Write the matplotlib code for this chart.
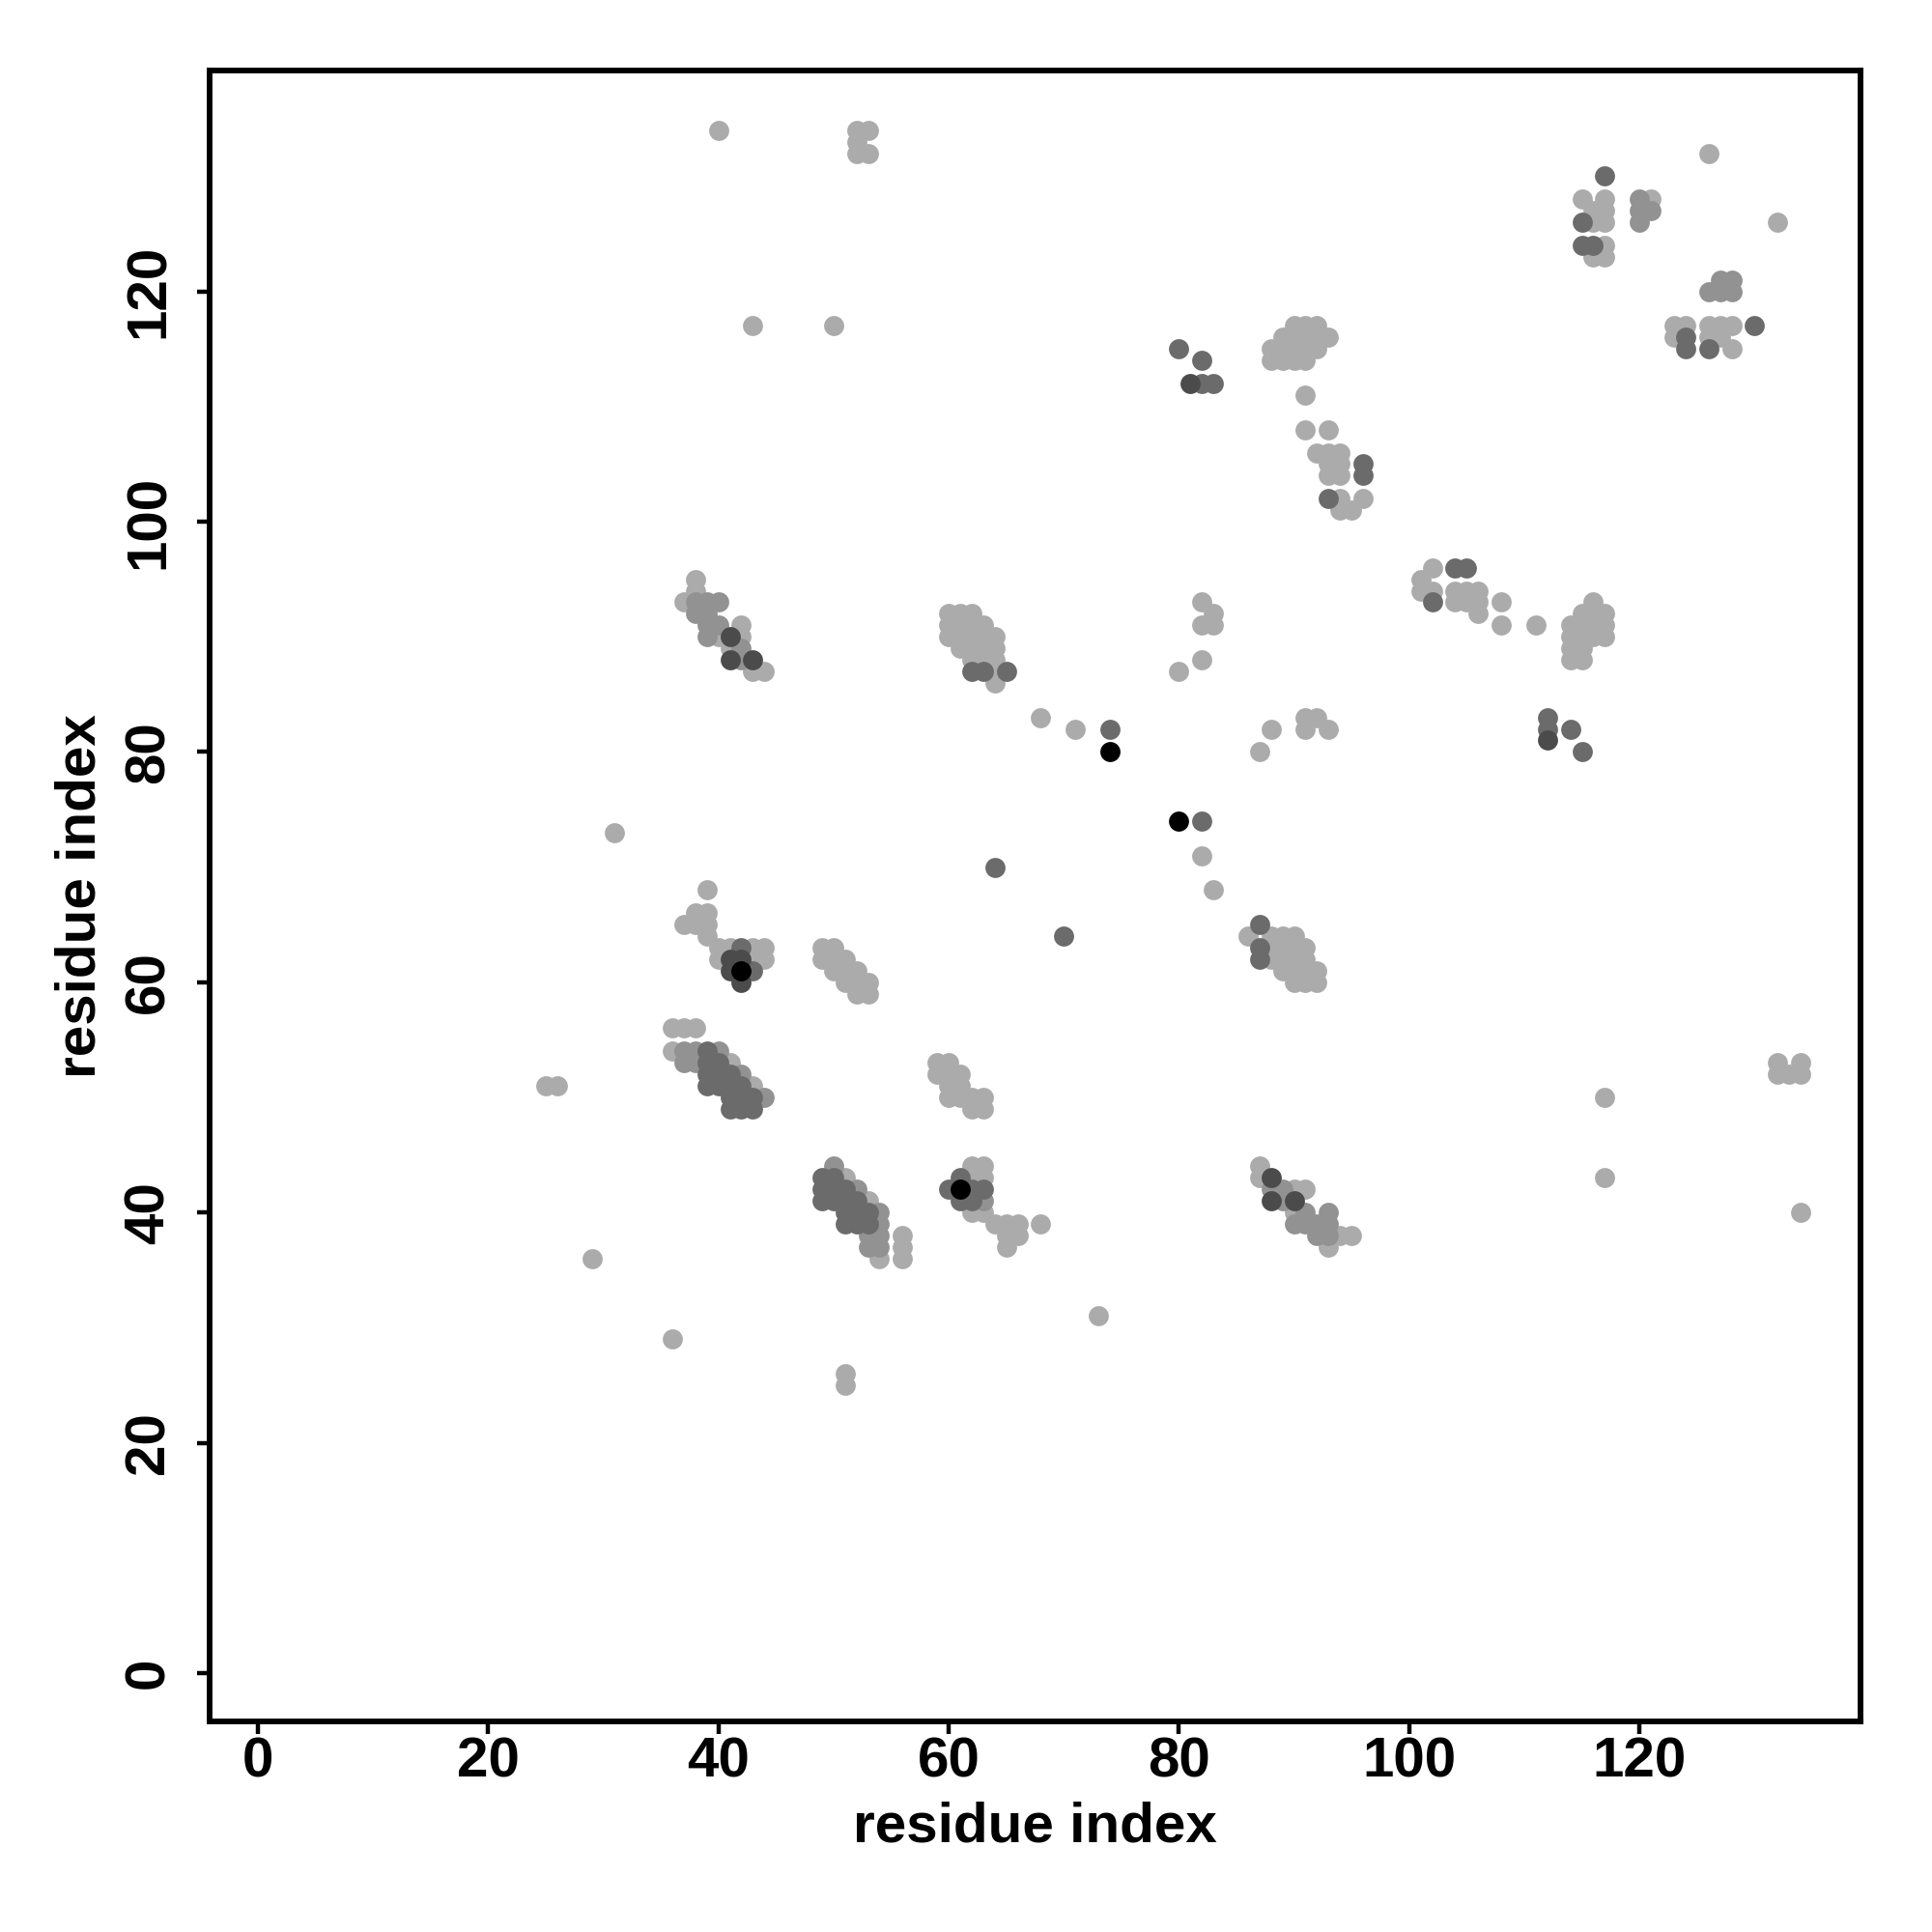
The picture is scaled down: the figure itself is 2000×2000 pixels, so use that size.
import matplotlib
matplotlib.use("Agg")
import matplotlib.pyplot as plt
import numpy as np

plt.rcParams['font.family'] = ['Liberation Sans', 'DejaVu Sans']

# contacts (i, j) grouped by shade
light = [
    (40, 134), (52, 134), (53, 134), (52, 133), (52, 132), (53, 132),
    (43, 117), (50, 117),
    (90, 117), (91, 117), (92, 117),
    (89, 116), (90, 116), (91, 116), (92, 116), (93, 116),
    (88, 115), (89, 115), (90, 115), (91, 115), (92, 115),
    (88, 114), (89, 114), (90, 114), (91, 114),
    (91, 111), (91, 108), (93, 108),
    (92, 106), (93, 106), (94, 106), (93, 105), (94, 105), (93, 104), (94, 104),
    (94, 102), (96, 102), (94, 101), (95, 101),
    (126, 132), (115, 128), (117, 128), (116, 127), (117, 127), (116, 126), (117, 126),
    (117, 124), (116, 123), (117, 123), (121, 128), (132, 126),
    (123, 117), (124, 117), (126, 117), (127, 117), (128, 117),
    (123, 116), (126, 116), (127, 116), (128, 115),
    (38, 95), (38, 94), (37, 93), (42, 91), (40, 90), (42, 90), (41, 89), (43, 87), (44, 87),
    (60, 92), (61, 92), (62, 92), (60, 91), (61, 91), (62, 91), (63, 91),
    (60, 90), (61, 90), (62, 90), (63, 90), (64, 90), (61, 89), (62, 89), (63, 89), (64, 89),
    (62, 88), (63, 88), (64, 88), (64, 87), (64, 86),
    (68, 83), (71, 82), (82, 93), (83, 92), (82, 91), (83, 91), (82, 88), (80, 87),
    (88, 82), (87, 80), (91, 83), (92, 83), (91, 82), (93, 82), (82, 71), (83, 68),
    (86, 64), (88, 64), (89, 64), (90, 64), (88, 63), (89, 63), (90, 63), (91, 63),
    (88, 62), (89, 62), (90, 62), (91, 62), (89, 61), (90, 61), (91, 61), (92, 61),
    (90, 60), (91, 60), (92, 60),
    (102, 96), (101, 95), (101, 94), (102, 94), (104, 94), (105, 94), (106, 94),
    (104, 93), (105, 93), (106, 93), (106, 92), (108, 93), (108, 91), (111, 91),
    (116, 93), (115, 92), (116, 92), (117, 92), (114, 91), (115, 91), (116, 91), (117, 91),
    (114, 90), (115, 90), (116, 90), (117, 90), (114, 89), (115, 89), (114, 88), (115, 88),
    (25, 51), (26, 51), (29, 36), (36, 29), (51, 26), (51, 25), (31, 73), (73, 31),
    (117, 50), (117, 43), (134, 40), (132, 53), (134, 53), (132, 52), (133, 52), (134, 52),
    (39, 68), (38, 66), (39, 66), (37, 65), (38, 65), (39, 65), (39, 64),
    (40, 63), (41, 63), (43, 63), (44, 63), (40, 62), (43, 62), (44, 62),
    (49, 63), (50, 63), (49, 62), (50, 62), (51, 62), (50, 61), (51, 61), (52, 61),
    (51, 60), (52, 60), (53, 60), (52, 59), (53, 59),
    (36, 56), (37, 56), (38, 56), (36, 54), (41, 53), (43, 51),
    (59, 53), (60, 53), (59, 52), (60, 52), (61, 52), (60, 51), (61, 51),
    (60, 50), (61, 50), (62, 50), (63, 50), (62, 49), (63, 49),
    (62, 44), (63, 44), (62, 43), (63, 43), (62, 40), (63, 40),
    (64, 39), (65, 39), (66, 39), (68, 39), (65, 38), (66, 38), (65, 37),
    (51, 43), (53, 41), (56, 38), (56, 37), (56, 36), (54, 36),
    (87, 44), (87, 43), (90, 42), (91, 42), (90, 40), (94, 38), (95, 38), (93, 37),
]

mid = [
    (120, 128), (120, 127), (121, 127), (120, 126),
    (127, 121), (128, 121), (126, 120), (127, 120), (128, 120),
    (38, 93), (39, 93), (40, 93), (38, 92), (39, 92), (39, 91), (40, 91), (39, 90),
    (42, 89), (42, 88),
    (37, 54), (38, 54), (40, 54), (37, 53), (38, 53), (42, 52), (44, 50),
    (50, 44), (52, 42), (54, 40), (54, 39), (53, 38), (54, 38), (53, 37), (54, 37),
    (63, 41),
    (88, 42), (89, 42), (89, 41), (91, 40), (93, 40), (90, 39), (91, 39), (92, 39), (93, 39),
    (92, 38), (93, 38),
]

dark = [
    (117, 130), (115, 126), (115, 124), (116, 124), (124, 116), (124, 115), (126, 115), (130, 117),
    (80, 115), (82, 114), (82, 112), (83, 112),
    (96, 105), (96, 104), (93, 102),
    (62, 87), (63, 87), (65, 87),
    (74, 82), (82, 74), (64, 70), (70, 64),
    (87, 65), (87, 63), (87, 62),
    (104, 96), (105, 96), (102, 93),
    (112, 83), (112, 82), (114, 82), (115, 80),
    (42, 63), (43, 61),
    (39, 54), (39, 53), (40, 53), (39, 52), (40, 52), (41, 52), (39, 51), (40, 51), (41, 51),
    (42, 51), (41, 50), (42, 50), (43, 50), (41, 49), (42, 49), (43, 49),
    (49, 43), (50, 43), (49, 42), (50, 42), (51, 42), (49, 41), (50, 41), (51, 41), (52, 41),
    (51, 40), (52, 40), (53, 40), (51, 39), (52, 39), (53, 39),
    (60, 42), (61, 43), (62, 42), (63, 42), (61, 41), (62, 41),
]

darker = [
    (81, 112), (112, 81), (41, 90), (41, 88), (43, 88),
    (41, 62), (42, 62), (41, 61), (42, 60), (88, 43), (88, 41), (90, 41),
]

black = [(74, 80), (80, 74), (42, 61), (61, 42)]

groups = [
    (light, '#ababab'),
    (mid, '#929292'),
    (dark, '#6b6b6b'),
    (darker, '#4b4b4b'),
    (black, '#000000'),
]

ticks = [0, 20, 40, 60, 80, 100, 120]

fig = plt.figure(figsize=(10, 10), dpi=200)
ax = fig.add_axes([0.1084, 0.109, 0.8546, 0.8546])

for pts, col in groups:
    arr = np.array(pts)
    ax.scatter(arr[:, 0], arr[:, 1], s=56, c=col, linewidths=0, zorder=2)

ax.set_xlim(-4.2, 139.2)
ax.set_ylim(-4.2, 139.2)

ax.set_xticks(ticks)
ax.set_yticks(ticks)
ax.set_xticklabels([str(t) for t in ticks], fontsize=21, fontweight='bold')
ax.set_yticklabels([str(t) for t in ticks], fontsize=21, fontweight='bold',
                   rotation=90, va='center')
ax.tick_params(axis='both', direction='out', length=4.7, width=1.6, color='black')
ax.tick_params(axis='x', pad=1)
ax.tick_params(axis='y', pad=8)

for sp in ax.spines.values():
    sp.set_linewidth(2.1)

ax.set_xlabel('residue index', fontsize=21, fontweight='bold')
ax.set_ylabel('residue index', fontsize=21, fontweight='bold')
ax.xaxis.set_label_coords(0.5, -0.064)
ax.yaxis.set_label_coords(-0.078, 0.5)
ax.xaxis.label.set_va('center')
ax.yaxis.label.set_va('center')

fig.savefig('out.png', dpi=200, facecolor='white')
